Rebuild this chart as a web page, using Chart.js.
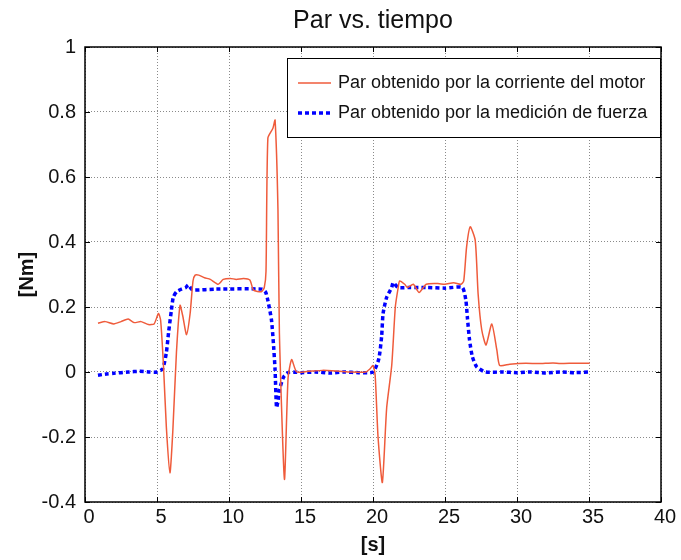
<!DOCTYPE html>
<html>
<head>
<meta charset="utf-8">
<script src="https://cdn.jsdelivr.net/npm/chart.js@4.4.1/dist/chart.umd.min.js"></script>
<style>
  html, body { margin: 0; padding: 0; background: #fff; }
  #wrap { width: 681px; height: 560px; }
</style>
</head>
<body>
<div id="wrap"><canvas id="c" width="681" height="560"></canvas></div>
<script>
// ========= data =========

const chartTitle = "Par vs. tiempo";
const xTitle = "[s]";
const yTitle = "[Nm]";

const labelMotor = "Par obtenido por la corriente del motor";
const labelFuerza = "Par obtenido por la medición de fuerza";

const xTicks = [0, 5, 10, 15, 20, 25, 30, 35, 40];
const yTicks = [-0.4, -0.2, 0, 0.2, 0.4, 0.6, 0.8, 1];

// par por corriente del motor
const tMotor = [0.9, 1.4, 2.0, 2.5, 3.0, 3.4, 3.9, 4.4, 4.8, 5.1, 5.25, 5.45, 5.65, 5.9, 6.1, 6.35, 6.6, 6.8, 7.05, 7.3,
  7.5, 7.65, 7.9, 8.3, 8.7, 9.25, 9.6, 10.1, 10.5, 11.0, 11.45, 11.7, 12.25, 12.45, 12.57, 12.7, 13.05, 13.2, 13.4, 13.5,
  13.85, 14.1, 14.35, 14.7, 15.5, 16.5, 17.5, 18.5, 19.5, 19.8, 20.0, 20.15, 20.35, 20.65, 20.95, 21.3, 21.55, 21.75, 21.85, 22.2,
  22.4, 22.8, 23.2, 23.7, 24.5, 25.0, 25.6, 26.1, 26.3, 26.5, 26.75, 27.1, 27.3, 27.55, 27.85, 28.25, 28.6, 28.8, 29.5, 30.6,
  31.5, 32.5, 33.0, 34.0, 35.05];
const parMotor = [0.15, 0.155, 0.148, 0.155, 0.163, 0.152, 0.155, 0.146, 0.148, 0.18, 0.16, 0.02, -0.17, -0.31, -0.18, 0.06, 0.205, 0.17, 0.115, 0.18,
  0.28, 0.298, 0.298, 0.29, 0.285, 0.27, 0.285, 0.288, 0.285, 0.288, 0.283, 0.252, 0.247, 0.26, 0.31, 0.72, 0.75, 0.775, 0.5, 0.12,
  -0.33, -0.02, 0.038, 0.0, 0.002, 0.005, 0.003, 0.0, 0.0, 0.01, 0.02, -0.01, -0.2, -0.34, -0.11, 0.02, 0.2, 0.26, 0.28, 0.27,
  0.26, 0.27, 0.245, 0.27, 0.272, 0.27, 0.275, 0.27, 0.28, 0.385, 0.447, 0.405, 0.24, 0.13, 0.083, 0.148, 0.068, 0.02, 0.024, 0.027,
  0.026, 0.028, 0.026, 0.027, 0.027];

// par por medicion de fuerza
const tFuerza = [0.9, 1.5, 2.0, 3.0, 3.8, 4.5, 5.0, 5.4, 5.65, 5.8, 6.0, 6.13, 6.36, 6.7, 7.0, 7.17, 7.4, 7.6, 9.1, 12.3,
  12.55, 12.7, 12.95, 13.1, 13.2, 13.3, 13.4, 13.5, 13.8, 14.2, 15, 16, 17, 18, 19, 20.0, 20.4, 20.6, 20.7, 20.95,
  21.3, 21.4, 21.75, 22.5, 23.7, 25, 26.2, 26.45, 26.55, 26.7, 26.9, 27.2, 27.8, 29, 30, 31, 32, 33, 34, 35.05];
const parFuerza = [-0.01, -0.006, -0.004, 0.0, 0.002, 0.0, 0.0, 0.01, 0.06, 0.12, 0.19, 0.23, 0.247, 0.255, 0.26, 0.268, 0.255, 0.252, 0.255, 0.255,
  0.245, 0.22, 0.16, 0.078, 0.006, -0.11, -0.09, -0.055, -0.015, 0.0, -0.002, 0.0, -0.003, 0.0, -0.002, 0.0, 0.04, 0.11, 0.18, 0.23,
  0.26, 0.275, 0.26, 0.26, 0.26, 0.258, 0.26, 0.22, 0.17, 0.1, 0.047, 0.016, 0.0, 0.0, -0.002, 0.0, -0.003, 0.0, -0.002, 0.0];

const toPoints = (xs, ys) => xs.map((x, i) => ({ x: x, y: ys[i] }));

const FONT = "'Liberation Sans', Arial, Helvetica, sans-serif";
const gridDotted = { color: "#8a8a8a", lineWidth: 1, drawTicks: false };
// en v4 el punteado de la rejilla va en border.dash
const borderDotted = { display: false, dash: [1, 2] };

// caja de ejes estilo matlab + leyenda dentro del area
const matlabBox = {
  id: "matlabBox",
  afterLayout(chart) {
    // el titulo va centrado sobre el area de ejes, no sobre el canvas
    if (chart.titleBlock) {
      chart.titleBlock.left = chart.chartArea.left;
      chart.titleBlock.right = chart.chartArea.right;
    }
  },
  afterDatasetsDraw(chart) {
    const { ctx, chartArea: a, scales } = chart;
    ctx.save();
    // ticks hacia dentro
    ctx.strokeStyle = "#000";
    ctx.lineWidth = 1;
    ctx.beginPath();
    xTicks.forEach(v => {
      const px = Math.round(scales.x.getPixelForValue(v)) + 0.5;
      ctx.moveTo(px, a.bottom); ctx.lineTo(px, a.bottom - 5);
      ctx.moveTo(px, a.top); ctx.lineTo(px, a.top + 5);
    });
    yTicks.forEach(v => {
      const py = Math.round(scales.y.getPixelForValue(v)) + 0.5;
      ctx.moveTo(a.left, py); ctx.lineTo(a.left + 5, py);
      ctx.moveTo(a.right, py); ctx.lineTo(a.right - 5, py);
    });
    ctx.stroke();
    ctx.lineWidth = 1.5;
    ctx.strokeRect(a.left, a.top, a.right - a.left, a.bottom - a.top);

    // leyenda
    const bx = 287, by = 58, bw = 373, bh = 79;
    ctx.fillStyle = "#fff";
    ctx.fillRect(bx, by, bw, bh);
    ctx.lineWidth = 1;
    ctx.strokeStyle = "#000";
    ctx.strokeRect(bx + 0.5, by + 0.5, bw, bh);
    chart.data.datasets.forEach((ds, i) => {
      const y = by + 25 + i * 30;
      ctx.beginPath();
      ctx.strokeStyle = ds.borderColor;
      ctx.lineWidth = ds.borderWidth;
      ctx.setLineDash(ds.borderDash || []);
      ctx.moveTo(bx + 11, y);
      ctx.lineTo(bx + 44, y);
      ctx.stroke();
      ctx.setLineDash([]);
      ctx.fillStyle = "#111";
      ctx.font = "18px " + FONT;
      ctx.textBaseline = "middle";
      ctx.textAlign = "left";
      ctx.fillText(ds.label, bx + 51, y);
    });
    ctx.restore();
  }
};

const ctx = document.getElementById("c");
new Chart(ctx, {
  type: "line",
  data: {
    datasets: [
      {
        label: labelMotor,
        data: toPoints(tMotor, parMotor),
        borderColor: "#ef5b3b",
        borderWidth: 1.5,
        pointRadius: 0,
        tension: 0.2
      },
      {
        label: labelFuerza,
        data: toPoints(tFuerza, parFuerza),
        borderColor: "#0000ff",
        borderWidth: 3.5,
        borderDash: [4, 3],
        borderCapStyle: "butt",
        pointRadius: 0,
        tension: 0.2
      }
    ]
  },
  options: {
    responsive: false,
    maintainAspectRatio: false,
    animation: false,
    layout: { padding: { left: 0, right: 20, top: 0, bottom: 0 } },
    plugins: {
      legend: { display: false },
      tooltip: { enabled: false },
      title: {
        display: true,
        text: chartTitle,
        color: "#111",
        font: { family: FONT, size: 25, weight: "normal" },
        padding: { top: 6, bottom: 11 }
      }
    },
    scales: {
      x: {
        type: "linear",
        min: 0,
        max: 40,
        afterBuildTicks: s => { s.ticks = xTicks.map(v => ({ value: v })); },
        afterFit: s => { s.height = 58; },
        grid: { ...gridDotted },
        border: { ...borderDotted },
        ticks: { color: "#111", font: { family: FONT, size: 20 }, padding: 3, labelOffset: 4, maxRotation: 0 },
        title: { display: true, text: xTitle, color: "#111", font: { family: FONT, size: 20, weight: "bold" }, padding: { top: 3, bottom: 3 } }
      },
      y: {
        min: -0.4,
        max: 1,
        afterBuildTicks: s => { s.ticks = yTicks.map(v => ({ value: v })); },
        afterFit: s => { s.width = 85; },
        grid: { ...gridDotted },
        border: { ...borderDotted },
        ticks: {
          color: "#111",
          font: { family: FONT, size: 20 },
          padding: 9,
          callback: v => String(Math.round(v * 10) / 10)
        },
        title: { display: true, text: yTitle, color: "#111", font: { family: FONT, size: 20, weight: "bold" }, padding: { top: 15, bottom: 15 } }
      }
    }
  },
  plugins: [matlabBox]
});
</script>
</body>
</html>
